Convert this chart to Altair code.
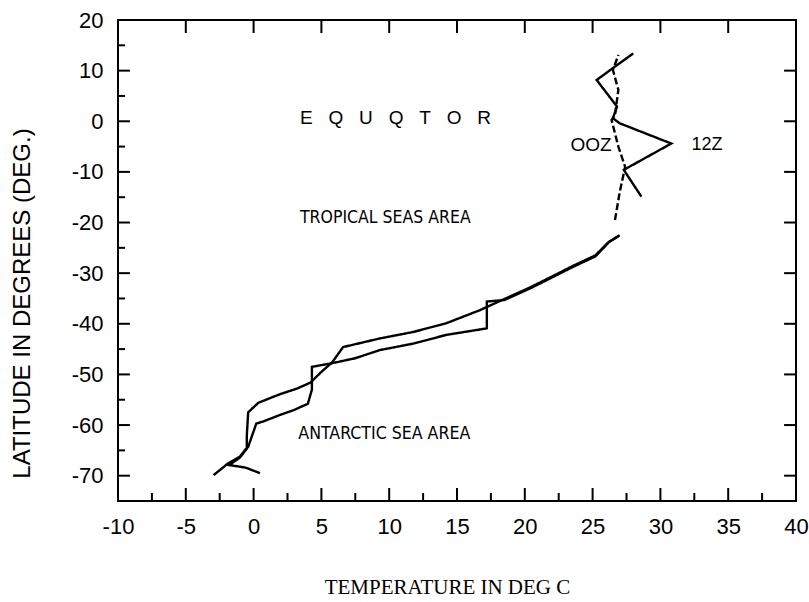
import altair as alt
import pandas as pd

# ---------------- data ----------------
x_tick_values = [-10, -5, 0, 5, 10, 15, 20, 25, 30, 35, 40]
y_tick_values = [-70, -60, -50, -40, -30, -20, -10, 0, 10, 20]

# 00Z : southern (solid) part
z00_low_temp = [0.47, -0.6, -1.8, -1.0, -0.4, -0.1, 0.2, 0.7, 1.95, 3.0, 4.0, 4.3, 4.3, 5.76,
                7.5, 9.3, 11.8, 14.2, 17.2, 17.2, 18.5, 20.4, 21.9, 23.6, 25.2, 26.2, 27.0]
z00_low_lat = [-69.5, -68.4, -67.9, -66.4, -64.3, -62.0, -59.7, -59.3, -58.0, -57.0, -55.8, -53.0, -48.5, -47.8,
               -46.8, -45.2, -43.9, -42.2, -40.9, -35.6, -35.3, -33.0, -31.0, -28.7, -26.7, -23.9, -22.5]
# 00Z : tropical (dashed) part
z00_up_temp = [26.65, 27.0, 27.4, 26.9, 26.4, 26.65, 26.9, 26.5, 26.9]
z00_up_lat = [-19.5, -14.0, -9.0, -5.0, 0.25, 1.2, 6.2, 10.1, 13.1]

# 12Z : southern part
z12_low_temp = [-2.95, -1.9, -1.0, -0.5, -0.5, -0.4, 0.35, 1.95, 3.2, 4.2, 5.0, 5.8, 6.6,
                9.3, 11.8, 14.2, 16.7, 18.5, 20.4, 21.9, 23.6, 25.2, 26.2, 26.9]
z12_low_lat = [-69.9, -67.6, -66.2, -64.5, -62.0, -57.5, -55.6, -53.9, -52.8, -51.6, -49.5, -47.6, -44.6,
               -42.9, -41.6, -39.9, -37.3, -35.1, -32.8, -30.8, -28.5, -26.5, -23.8, -22.7]
# 12Z : tropical part
z12_up_temp = [28.6, 27.3, 30.8, 27.0, 26.5, 26.8, 25.3, 26.65, 28.0]
z12_up_lat = [-14.9, -9.6, -4.4, -0.4, 0.6, 2.9, 8.15, 10.8, 13.4]

labels_text = ["E\u00a0\u00a0\u00a0Q\u00a0\u00a0\u00a0U\u00a0\u00a0\u00a0Q\u00a0\u00a0\u00a0T\u00a0\u00a0\u00a0O\u00a0\u00a0\u00a0R",
               "TROPICAL SEAS AREA", "ANTARCTIC SEA AREA", "OOZ", "12Z"]
labels_temp = [3.42, 3.42, 3.3, 26.4, 32.3]
labels_lat = [0.64, -19.1, -61.8, -4.7, -4.7]

# ---------------- tables ----------------
rows = []
for seg, dash, xs, ys in [("00Z-low", "solid", z00_low_temp, z00_low_lat),
                          ("00Z-up", "dashed", z00_up_temp, z00_up_lat),
                          ("12Z-low", "solid", z12_low_temp, z12_low_lat),
                          ("12Z-up", "solid", z12_up_temp, z12_up_lat)]:
    for i, (a, b) in enumerate(zip(xs, ys)):
        rows.append({"seg": seg, "dash": dash, "i": i, "temp": a, "lat": b})
lines_df = pd.DataFrame(rows)

XMIN, XMAX, YMIN, YMAX = -10, 40, -75, 20
XMAJ, XMIN_T = 2.57, 1.58   # tick lengths along latitude units (bottom/top ticks)
YMAJ, YMIN_T = 0.88, 0.52   # tick lengths along temperature units (left/right ticks)

ticks = []
for v in x_tick_values[1:-1]:
    ticks.append({"temp": v, "temp2": v, "lat": YMIN, "lat2": YMIN + XMAJ})
    ticks.append({"temp": v, "temp2": v, "lat": YMAX, "lat2": YMAX - XMAJ})
for v in x_tick_values[:-1]:
    m = v + 2.5
    ticks.append({"temp": m, "temp2": m, "lat": YMIN, "lat2": YMIN + XMIN_T})
for v in y_tick_values[:-1]:
    ticks.append({"temp": XMIN, "temp2": XMIN + YMAJ, "lat": v, "lat2": v})
    ticks.append({"temp": XMAX, "temp2": XMAX - YMAJ, "lat": v, "lat2": v})
    m = v + 5
    ticks.append({"temp": XMIN, "temp2": XMIN + YMIN_T, "lat": m, "lat2": m})
ticks_df = pd.DataFrame(ticks)

xscale = alt.Scale(domain=[XMIN, XMAX], nice=False, zero=False)
yscale = alt.Scale(domain=[YMIN, YMAX], nice=False, zero=False)

x_axis = alt.Axis(values=x_tick_values, ticks=False, tickSize=0, domain=False, grid=False,
                  labelExpr="datum.value + ''",
                  labelFont="Liberation Sans", labelFontSize=22, labelColor="black",
                  labelPadding=15, labelFlush=False, labelOverlap=False,
                  title="TEMPERATURE IN DEG C", titleFont="Liberation Serif", titleFontSize=21,
                  titleFontWeight="normal", titleColor="black",
                  titleX=329, titleY=86, titleAlign="center", titleBaseline="middle")
y_axis = alt.Axis(values=y_tick_values, ticks=False, tickSize=0, domain=False, grid=False,
                  labelExpr="datum.value + ''",
                  labelFont="Liberation Sans", labelFontSize=22, labelColor="black",
                  labelPadding=15, labelFlush=False, labelOverlap=False,
                  title="LATITUDE IN DEGREES (DEG.)", titleFont="Liberation Sans", titleFontSize=24,
                  titleFontWeight="normal", titleColor="black", titleAngle=270,
                  titleX=-96, titleY=283, titleAlign="center", titleBaseline="middle")

X = alt.X("temp:Q", scale=xscale, axis=x_axis)
Y = alt.Y("lat:Q", scale=yscale, axis=y_axis)

lines = alt.Chart(lines_df).mark_line(color="black", strokeWidth=2.4).encode(
    x=X, y=Y,
    detail="seg:N",
    order=alt.Order("i:Q"),
    strokeDash=alt.StrokeDash("dash:N", scale=alt.Scale(domain=["solid", "dashed"],
                                                        range=[[1, 0], [7, 3]]), legend=None),
)

tick_layer = alt.Chart(ticks_df).mark_rule(color="black", strokeWidth=2).encode(
    x=X, x2="temp2:Q", y=Y, y2="lat2:Q",
)

narrow = "Liberation Sans Narrow, Arial Narrow, DejaVu Sans Condensed, Liberation Sans"
styles = [("left", "Liberation Sans", 19), ("left", narrow, 17.5), ("left", narrow, 17.6),
          ("right", "Liberation Sans", 19), ("left", "Liberation Sans", 18)]
text_layers = []
for (t, a, b), (al, fnt, sz) in zip(zip(labels_text, labels_temp, labels_lat), styles):
    d = pd.DataFrame({"temp": [a], "lat": [b], "txt": [t]})
    text_layers.append(
        alt.Chart(d).mark_text(align=al, baseline="middle", font=fnt, fontSize=sz, color="black").encode(
            x=X, y=Y, text="txt:N",
        )
    )

chart = alt.layer(lines, tick_layer, *text_layers).properties(
    width=678, height=481,
    padding={"left": 118, "top": 20, "right": 13, "bottom": 101},
    autosize=alt.AutoSizeParams(type="none"),
    background="white",
).configure_view(stroke="black", strokeWidth=2)

chart.save("out.html", embed_options={"renderer": "svg", "actions": False})
